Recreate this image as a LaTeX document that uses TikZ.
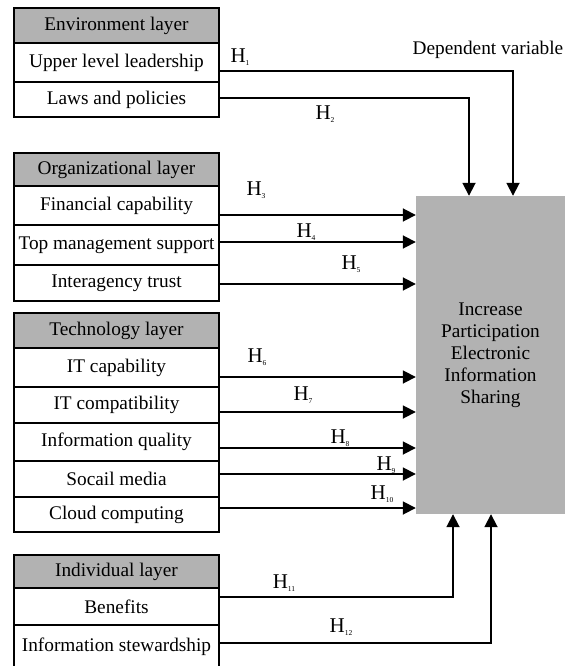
\documentclass[tikz,border=0pt]{standalone}
\usepackage{fontspec}
\setmainfont{Liberation Serif}
\usepackage{tikz}
\usetikzlibrary{arrows.meta}
\usetikzlibrary{positioning}
\newcommand{\boxfont}{\fontsize{19.3}{22}\selectfont}
\newcommand{\hyp}[1]{H\raisebox{-2.5pt}{\fontsize{7.5}{7.5}\selectfont #1}}
\tikzstyle{layerhead}=[rectangle,draw,fill=black!30,minimum width=205pt,inner sep=0pt,line width=1.8pt,font=\boxfont]
\tikzstyle{factor}=[rectangle,draw,fill=white,minimum width=205pt,inner sep=0pt,line width=1.8pt,font=\boxfont]
\tikzstyle{target}=[rectangle,fill=black!30,minimum width=149pt,minimum height=318pt,inner sep=0pt,align=center,font=\boxfont]
\tikzstyle{edge} = [draw,line width=1.8pt,-{Triangle[length=13pt,width=13pt]}]
\tikzstyle{weight} = [font=\fontsize{21}{21}\selectfont]

\begin{document}
\begin{tikzpicture}[x=1pt,y=-1pt]
    \useasboundingbox (0,0) rectangle (566,666);
    \clip (0,0) rectangle (566,666);
    % The four layers: grey headers first
    \foreach \pos/\name/\h/\label in {{(116.5,25.5)/env/35/Environment layer}, {(116.5,169.5)/org/33/Organizational layer}, {(116.5,330.5)/tec/35/Technology layer}, {(116.5,571.5)/ind/33/Individual layer}}
        \node[layerhead,minimum height=\h pt] (\name) at \pos {\label};

    % then the factors under them
    \foreach \pos/\name/\h/\label in {{(116.5,62.5)/lead/39/Upper level leadership}, {(116.5,99.5)/law/35/Laws and policies},
        {(116.5,205.5)/fin/39/Financial capability}, {(116.5,245)/top/40/Top management support}, {(116.5,283)/trust/36/Interagency trust},
        {(116.5,367.5)/itcap/39/IT capability}, {(116.5,405)/itcom/36/IT compatibility}, {(116.5,442)/quality/38/Information quality}, {(116.5,479)/media/36/Socail media}, {(116.5,514.5)/cloud/35/Cloud computing},
        {(116.5,606.5)/ben/37/Benefits}, {(116.5,646.5)/stew/43/Information stewardship}}
        \node[factor,minimum height=\h pt] (\name) at \pos {\label};

    % Dependent variable
    \node[target] (dv) at (490.5,355) {Increase\\Participation\\Electronic\\Information\\Sharing};
    \node[font=\boxfont] (dvlabel) at (488,50) {Dependent variable};

    % Connect factors with the dependent variable
    \foreach \source/\dy/\n in {fin/9.5/3, top/-3/4, trust/1/5, itcap/9.5/6, itcom/7/7, quality/6/8, media/-5/9, cloud/-6.5/10}
        \draw[edge] (\source.east) ++(0,\dy) coordinate (s\n) -- (s\n -| dv.west);
    \draw[edge] (lead.east) ++(0,8.5) -| ([xshift=22.5pt]dv.north);
    \draw[edge] (law.east) ++(0,-1.5) -| ([xshift=-21.5pt]dv.north);
    \draw[edge] (ben.east) ++(0,-9.5) -| ([xshift=-37.5pt]dv.south);
    \draw[edge] (stew.east) ++(0,-3.5) -| ([xshift=0.5pt]dv.south);

    % Hypothesis labels
    \foreach \pos/\n in {{(240,57)/1}, {(325,114)/2}, {(256,190)/3}, {(306,232)/4}, {(351,264)/5}, {(257,357)/6}, {(303,395)/7}, {(340,438)/8}, {(386,465)/9}, {(382,494)/10}, {(284,583)/11}, {(341,627)/12}}
        \node[weight] (h\n) at \pos {\hyp{\n}};
\end{tikzpicture}
\end{document}
